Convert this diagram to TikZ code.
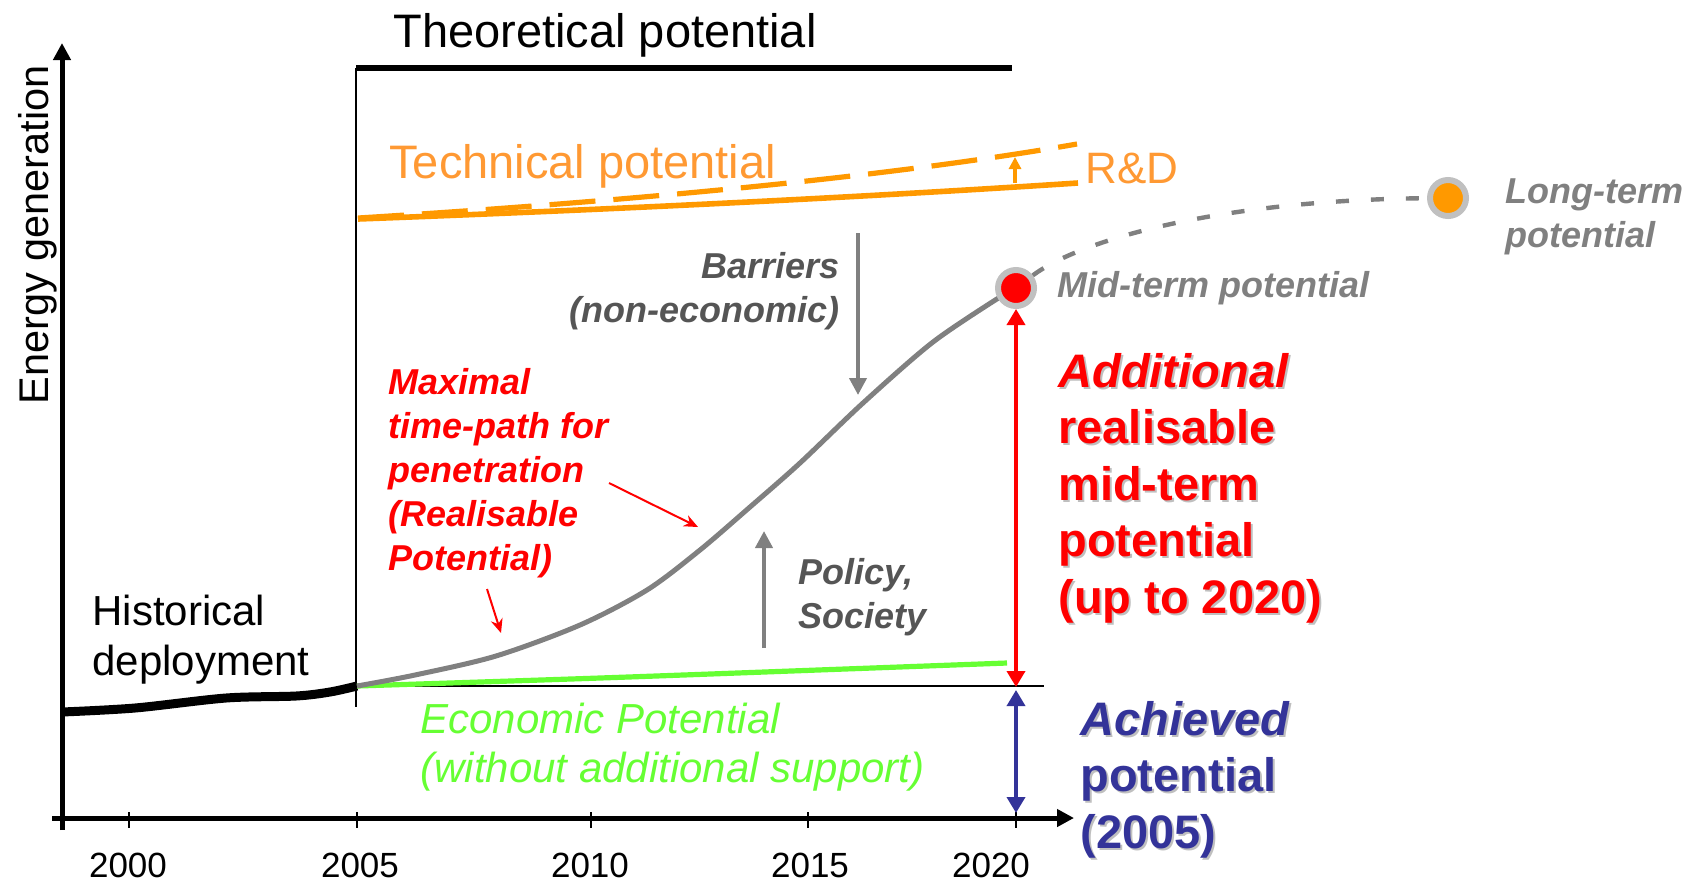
\documentclass[tikz,border=0pt]{standalone}
\usepackage{fontspec}
\setmainfont{Liberation Sans}
\usetikzlibrary{arrows.meta, positioning}
\definecolor{techorange}{HTML}{FF9900}
\definecolor{techtext}{HTML}{FF9933}
\definecolor{econgreen}{HTML}{66FF33}
\definecolor{pathgray}{HTML}{808080}
\definecolor{barriergray}{HTML}{555555}
\definecolor{ringgray}{HTML}{C0C0C0}
\definecolor{achblue}{HTML}{333399}
\definecolor{shadowgray}{HTML}{BFBFBF}
\newcommand\shadowed[1]{\leavevmode\rlap{\kern1pt\raisebox{-1pt}{\color{shadowgray}#1}}#1}
\tikzstyle{axis} = [line width=2.5pt, -{Triangle[length=8.5pt,width=8.5pt]}]
\tikzstyle{lbl} = [inner sep=0pt, anchor=base west, align=left]
\tikzstyle{dot} = [circle, minimum size=18pt, inner sep=0pt, line width=3pt, draw=ringgray]
\tikzstyle{grayarrow} = [line width=2pt, pathgray, -{Triangle[length=8.5pt,width=8.5pt]}]
\tikzstyle{pointer} = [line width=1pt, red, -{Stealth[length=7pt,width=6pt]}]
\tikzstyle{span} = [line width=1.8pt, {Triangle[length=8pt,width=9pt]}-{Triangle[length=8pt,width=9pt]}]
\tikzstyle{year} = [inner sep=0pt, anchor=base, font=\fontsize{17.5}{21}\selectfont]
\tikzstyle{remark} = [font=\fontsize{18}{22}\selectfont\bfseries\itshape]
\tikzstyle{big} = [font=\fontsize{23.5}{28.25}\selectfont\bfseries]

\begin{document}
\begin{tikzpicture}[x=0.5pt, y=-0.5pt]
	\useasboundingbox (0,0) rectangle (1690,885);
	% axes
	\coordinate (origin) at (62,830);
	\coordinate (ytop) at (62,43);
	\coordinate (xleft) at (52,818);
	\coordinate (xright) at (1074,818);
	\draw [axis] (origin) -- (ytop);
	\draw [axis] (xleft) -- (xright);
	\foreach \yr/\tx/\lx in {2000/129/128, 2005/357/360, 2010/591/590, 2015/808/810, 2020/1016/991} {
		\draw [line width=1pt] (\tx,812) -- (\tx,828);
		\node (y\yr) [year] at (\lx,877) {\yr};
	}
	\node (ylabel) [inner sep=0pt, anchor=base, rotate=90, font=\fontsize{20.75}{24}\selectfont] at (48,235) {Energy generation};
	% theoretical potential
	\draw [line width=3pt] (356,68) -- (1012,68);
	\draw [line width=0.6pt] (356,68) -- (356,707);
	\draw [line width=0.6pt] (356,686) -- (1044,686);
	\node (theo) [lbl, font=\fontsize{23.5}{28}\selectfont] at (393,47) {Theoretical potential};
	% technical potential
	\draw [techorange, line width=2.6pt, dash pattern=on 23pt off 9pt] (358,218) .. controls (650,200) and (900,175) .. (1077,144);
	\draw [techorange, line width=2.8pt] (358,219) .. controls (600,210) and (850,198) .. (1078,183);
	\coordinate (rdlow) at (1015,183);
	\coordinate (rdhigh) at (1015,157);
	\draw [techorange, line width=2pt, -{Triangle[length=6pt,width=6pt]}] (rdlow) -- (rdhigh);
	\node (tech) [lbl, techtext, font=\fontsize{23.5}{28}\selectfont] at (389,178) {Technical potential};
	\node (rnd) [lbl, techtext, font=\fontsize{22}{26}\selectfont] at (1085,183) {R\&D};
	% historical deployment
	\draw [line width=4.5pt] plot [smooth] coordinates {(62,712) (135,708) (226,698) (296,696) (330,692) (357,686)};
	\node (hist) [lbl, font=\fontsize{21}{25}\selectfont] at (92,675) {Historical\\deployment};
	% economic potential
	\draw [econgreen, line width=2.6pt] plot [smooth] coordinates {(357,686) (600,678) (845,669) (1007,663)};
	\node (econ) [lbl, econgreen, font=\fontsize{21}{24.5}\selectfont\itshape] at (420,782) {Economic Potential\\(without additional support)};
	% realisable path
	\draw [pathgray, line width=2.5pt] plot [smooth, tension=0.5] coordinates {(357,686) (415,675) (496,656) (580,625) (647,590) (700,550) (750,507) (800,463) (863,403) (933,342) (1000,297)};
	\node (mid) [dot, fill=red] at (1016,288) {};
	\node (long) [dot, fill=techorange] at (1448,198) {};
	\draw [pathgray, line width=2.2pt, dash pattern=on 6.5pt off 11pt] (mid) .. controls (1080,240) and (1220,200) .. (long);
	\node (midlbl) [right=10pt of mid, inner sep=0pt, pathgray, remark] {Mid-term potential};
	\node (longlbl) [lbl, pathgray, remark] at (1505,247) {Long-term\\potential};
	% barriers and policy
	\coordinate (bartop) at (858,233);
	\coordinate (barbot) at (858,395);
	\draw [grayarrow] (bartop) -- (barbot);
	\node (barriers) [inner sep=0pt, anchor=base east, align=right, barriergray, remark] at (840,322) {Barriers\\(non-economic)};
	\coordinate (polbot) at (764,648);
	\coordinate (poltop) at (764,531);
	\draw [grayarrow] (polbot) -- (poltop);
	\node (policy) [lbl, barriergray, remark] at (798,628) {Policy,\\Society};
	% maximal time-path
	\node (maxpath) [lbl, red, remark] at (388,570) {Maximal\\time-path for\\penetration\\(Realisable\\Potential)};
	\coordinate (ptr1a) at (609,483);
	\coordinate (ptr1b) at (698,527);
	\coordinate (ptr2a) at (487,589);
	\coordinate (ptr2b) at (501,633);
	\draw [pointer] (ptr1a) -- (ptr1b);
	\draw [pointer] (ptr2a) -- (ptr2b);
	% ranges
	\coordinate (base2020) at (1016,687);
	\coordinate (axis2020) at (1016,813);
	\draw [span, red] (mid) -- (base2020);
	\draw [span, achblue, shorten <=1.5pt] (base2020) -- (axis2020);
	\node (addlbl) [lbl, red, big] at (1058,613) {\shadowed{\textit{Additional}}\\\shadowed{realisable}\\\shadowed{mid-term}\\\shadowed{potential}\\\shadowed{(up to 2020)}};
	\node (achlbl) [lbl, achblue, big] at (1080,848) {\shadowed{\textit{Achieved}}\\\shadowed{potential}\\\shadowed{(2005)}};
\end{tikzpicture}
\end{document}
